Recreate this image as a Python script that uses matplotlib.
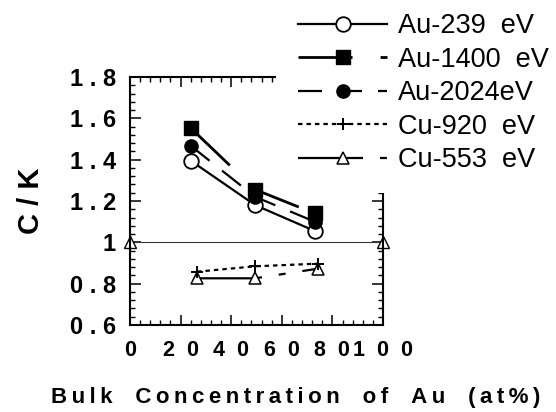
import matplotlib
matplotlib.use('Agg')
import matplotlib.pyplot as plt
from matplotlib.ticker import FixedLocator, MultipleLocator
from matplotlib.patches import Rectangle

plt.rcParams['font.family'] = ['Liberation Sans', 'DejaVu Sans']
plt.rcParams['lines.scale_dashes'] = False

# ---- data ----
au_x = [24, 49.5, 73]
au239 = [1.395, 1.18, 1.055]
au1400 = [1.553, 1.255, 1.14]
au2024 = [1.467, 1.22, 1.10]
cu_x = [26.5, 49.5, 74.5]
cu920 = [0.858, 0.884, 0.897]
cu553 = [0.826, 0.826, 0.873]
ref_x = [0, 100]
ref_y = [1.0, 1.0]

x_ticks = [0, 20, 40, 60, 80, 100]
x_tick_labels = ['0', '20', '40', '60', '80', '100']
y_ticks = [0.6, 0.8, 1.0, 1.2, 1.4, 1.6, 1.8]
y_tick_labels = ['0.6', '0.8', '1', '1.2', '1.4', '1.6', '1.8']

labels = ['Au-239  eV', 'Au-1400  eV', 'Au-2024eV', 'Cu-920  eV', 'Cu-553  eV']


def spaced(s, sep):
    return sep.join(list(s))


fig = plt.figure(figsize=(5.56, 4.12), dpi=100)
ax = fig.add_axes([130 / 556, 1 - 325 / 412, 253 / 556, 248 / 412])

lw = 1.6
# reference line at 1 with end markers
ax.plot(ref_x, ref_y, color='#333333', lw=0.8, marker='^', ms=9,
        mfc='white', mec='black', mew=1.0, clip_on=False, zorder=2)

ax.plot(au_x, au239, color='black', lw=lw, marker='o', ms=10.5,
        mfc='white', mec='black', mew=1.3, label=labels[0], zorder=3)
ax.plot(au_x, au2024, color='black', lw=lw, dashes=(17.3, 11.5), marker='o',
        ms=9.5, mfc='black', mec='black', label=labels[2], zorder=4)
ax.plot(au_x, au1400, color='black', lw=2.0, dashes=(38.9, 20.2), marker='s',
        ms=10.5, mfc='black', mec='black', label=labels[1], zorder=5)
ax.plot(cu_x, cu920, color='black', lw=lw, dashes=(3.2, 2.9), marker='+',
        ms=9, mew=1.4, label=labels[3], zorder=4)
ax.plot(cu_x, cu553, color='black', lw=lw, dashes=(46.8, 12.2, 5, 12.2),
        marker='^', ms=9, mfc='white', mec='black', mew=1.1,
        label=labels[4], zorder=3)

ax.set_xlim(0, 100)
ax.set_ylim(0.6, 1.8)

ax.xaxis.set_major_locator(FixedLocator(x_ticks))
ax.xaxis.set_minor_locator(MultipleLocator(4))
ax.yaxis.set_major_locator(FixedLocator(y_ticks))
ax.yaxis.set_minor_locator(MultipleLocator(0.04))

ax.set_xticklabels([spaced(t, '  ') for t in x_tick_labels],
                   fontsize=15.5, fontweight='bold')
ax.set_yticklabels([spaced(t, ' ') for t in y_tick_labels],
                   fontsize=17, fontweight='bold')

ax.tick_params(which='both', direction='in', top=True, right=True, color='black')
ax.tick_params(axis='x', which='major', length=7.2, width=1.1, pad=11)
ax.tick_params(axis='x', which='minor', length=3.3, width=1.0)
ax.tick_params(axis='y', which='major', length=8, width=1.1, pad=10)
ax.tick_params(axis='y', which='minor', length=3.5, width=1.0)
for sp in ax.spines.values():
    sp.set_linewidth(1.5)

xlabel = '   \u2009'.join(spaced(w, '\u2009') for w in
                           ['Bulk', 'Concentration', 'of', 'Au', '(at%)'])
fig.text(296 / 556, 1 - 397 / 412, xlabel, fontsize=16, fontweight='bold',
         ha='center', va='center')
fig.text(31 / 556, 1 - 201 / 412, 'C / K', rotation=90, fontsize=21,
         fontweight='bold', ha='center', va='center')

# white legend area covering the upper-right corner of the frame
fig.add_artist(Rectangle((276 / 556, 1 - 193 / 412), 1, 1,
                         transform=fig.transFigure, facecolor='white',
                         edgecolor='none', zorder=1))

h, l = ax.get_legend_handles_labels()
hd = dict(zip(l, h))
leg = fig.legend([hd[k] for k in labels], labels, loc='upper left',
                 bbox_to_anchor=(298 / 556, 1 - 13 / 412), frameon=False,
                 fontsize=19.5, handlelength=3.3, handletextpad=0.38,
                 labelspacing=0.28, borderpad=0, borderaxespad=0,
                 numpoints=1)
leg.set_zorder(6)

fig.savefig('out.png', dpi=100, facecolor='white')
